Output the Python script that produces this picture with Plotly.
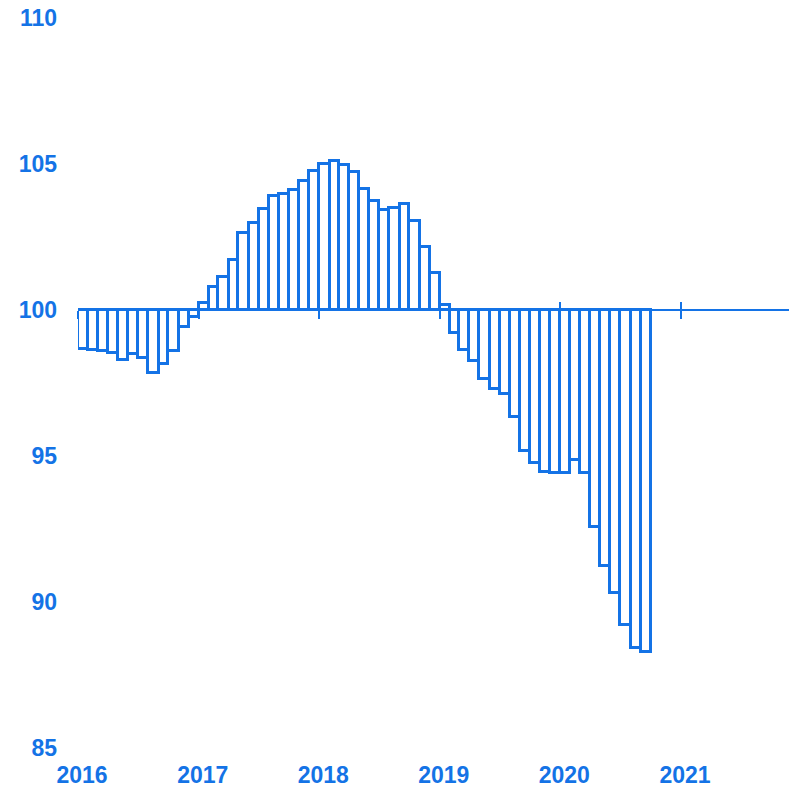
import pandas as pd
import plotly.graph_objects as go

# Monthly index values (Jan 2016 - Sep 2020), baseline 100
values_2016 = [98.65, 98.62, 98.60, 98.54, 98.29, 98.50, 98.35, 97.85, 98.15, 98.60, 99.43, 99.77]
values_2017 = [100.25, 100.80, 101.12, 101.71, 102.63, 102.99, 103.47, 103.90, 103.96, 104.10, 104.42, 104.77]
values_2018 = [105.00, 105.10, 104.97, 104.74, 104.14, 103.73, 103.42, 103.50, 103.63, 103.05, 102.17, 101.28]
values_2019 = [100.17, 99.22, 98.63, 98.26, 97.63, 97.30, 97.12, 96.35, 95.18, 94.77, 94.45, 94.41]
values_2020 = [94.41, 94.86, 94.43, 92.56, 91.23, 90.30, 89.21, 88.41, 88.30]
values = values_2016 + values_2017 + values_2018 + values_2019 + values_2020
baseline = 100

year_ticks = ["2016", "2017", "2018", "2019", "2020", "2021"]
y_ticks = [85, 90, 95, 100, 105, 110]

BLUE = "#1473e6"

months = pd.date_range("2016-01-01", periods=len(values) + 1, freq="MS")
starts = months[:-1]
widths_ms = [(months[i + 1] - months[i]).total_seconds() * 1000 for i in range(len(values))]

fig = go.Figure()
fig.add_trace(go.Bar(
    x=[d.strftime("%Y-%m-%d") for d in starts],
    y=[v - baseline for v in values],
    base=baseline,
    width=widths_ms,
    offset=0,
    marker=dict(color="white", line=dict(color=BLUE, width=3)),
    hoverinfo="skip",
    showlegend=False,
))

tickvals = [f"{y}-01-01" for y in year_ticks]
# invisible helper traces so that the overlay axes (line at 100 with crossing ticks) are drawn
for ax in ("x2", "x3"):
    fig.add_trace(go.Scatter(
        x=[tickvals[0]], y=[None], xaxis=ax, yaxis="y", mode="markers",
        showlegend=False, hoverinfo="skip",
    ))

x_range = ["2016-01-01", "2021-11-24"]
ymin, ymax = 85, 110
pos = (baseline - ymin) / (ymax - ymin)
font = dict(family="Liberation Sans, Arial, sans-serif", size=23, color=BLUE, weight="bold")

fig.update_layout(
    width=789, height=788,
    margin=dict(l=78, r=0, t=18, b=40),
    plot_bgcolor="white", paper_bgcolor="white",
    bargap=0,
    xaxis=dict(
        type="date", range=x_range, tickvals=tickvals, ticktext=year_ticks,
        showgrid=False, zeroline=False, showline=False, ticks="",
        tickfont=font, ticklabelshift=4, ticklabelstandoff=11,
        ticklabeloverflow="allow",
    ),
    xaxis2=dict(
        type="date", overlaying="x", matches="x", anchor="free", position=pos,
        tickvals=tickvals, showticklabels=False, showgrid=False, zeroline=False,
        showline=True, linecolor=BLUE, linewidth=2,
        ticks="outside", ticklen=8, tickwidth=2, tickcolor=BLUE,
    ),
    xaxis3=dict(
        type="date", overlaying="x", matches="x", anchor="free", position=pos,
        tickvals=tickvals, showticklabels=False, showgrid=False, zeroline=False,
        showline=False, ticks="inside", ticklen=8, tickwidth=2, tickcolor=BLUE,
    ),
    yaxis=dict(
        range=[ymin, ymax], tickvals=y_ticks, showgrid=False, zeroline=False,
        showline=False, ticks="", tickfont=font, ticklabelstandoff=20,
        ticklabeloverflow="allow",
    ),
)

fig.write_html(
    "out.html",
    config={"displayModeBar": False},
    post_script="document.body.style.margin='0';document.documentElement.style.overflow='hidden';",
)
